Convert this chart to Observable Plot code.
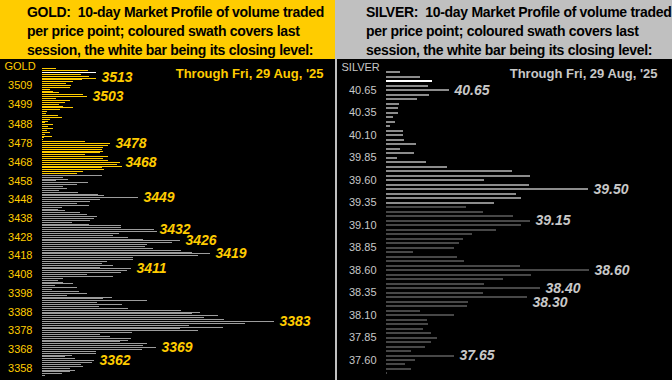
<!DOCTYPE html>
<html>
<head>
<meta charset="utf-8">
<script src="https://cdn.jsdelivr.net/npm/d3@7"></script>
<script src="https://cdn.jsdelivr.net/npm/@observablehq/plot@0.6"></script>
<style>
  html, body { margin: 0; padding: 0; }
  body { width: 672px; height: 380px; overflow: hidden; background: #c0c0c0; font-family: "Liberation Sans", Arial, sans-serif; }
  #wrap { display: flex; width: 672px; height: 380px; }
  .panel { height: 380px; }
  .head { height: 59px; box-sizing: border-box; padding-top: 3px; font-weight: bold; font-size: 14px; line-height: 19px; letter-spacing: -0.3px; white-space: nowrap; color: #000; }
  #goldHead { background: #FFCC00; padding-left: 27px; width: 335px; }
  #silverHead { background: #C0C0C0; padding-left: 31px; width: 337px; }
  #silverChart { margin-left: 2px; }
  svg { display: block; }
</style>
</head>
<body>
<div id="wrap">
  <div class="panel" style="width:335px">
    <div class="head" id="goldHead"></div>
    <div id="goldChart"></div>
  </div>
  <div class="panel" style="width:337px">
    <div class="head" id="silverHead"></div>
    <div id="silverChart"></div>
  </div>
</div>
<script>
// ---------------- DATA ----------------
const goldTitle = ["GOLD:\u00a0\u00a010-day Market Profile of volume traded", "per price point; coloured swath covers last", "session, the white bar being its closing level:"];
const silverTitle = ["SILVER:\u00a0\u00a010-day Market Profile of volume traded", "per price point; coloured swath covers last", "session, the white bar being its closing level:"];
const dateNote = "Through Fri, 29 Aug, '25";

// Gold: one bar per $1, from the top price downward
const goldTopPrice = 3518;
const goldVolumes = [
  14,46,54,39,47,54,40,31,24,29,28,8,11,17,41,45,
  14,28,23,17,21,31,18,5,4,16,20,8,6,3,11,6,11,5,8,3,10,2,1,
  43,68,66,61,60,61,58,43,66,61,66,78,75,80,60,62,41,35,
  60,21,26,14,46,35,21,25,17,36,56,62,96,
  58,48,35,47,20,16,23,38,45,55,52,48,30,47,79,79,
  112,115,77,71,86,101,
  138,130,105,103,111,139,150,
  168,156,91,91,65,60,71,58,
  89,85,79,45,71,21,16,21,31,13,35,10,37,45,25,70,61,105,55,80,57,86,
  139,158,150,176,162,182,
  232,203,147,181,138,156,
  90,58,68,89,86,78,105,101,
  114,100,54,54,30,23,33,
  52,50,39,41,28,33,28,20,3
];
const goldClose = 3516;
const goldSwathLow = 3462;
const goldTicks = [3509, 3499, 3488, 3478, 3468, 3458, 3448, 3438, 3428, 3418, 3408, 3398, 3388, 3378, 3368, 3358];
const goldCallouts = [3513, 3503, 3478, 3468, 3449, 3432, 3426, 3419, 3411, 3383, 3369, 3362];

// Silver: one bar per $0.05, from the top price downward
const silverTopPrice = 40.80;
const silverStep = 0.05;
const silverVolumes = [
  14,34,46,42,63,43,31,13,12,12,
  7,9,4,17,17,18,30,14,28,11,
  40,61,126,144,98,143,202,130,135,108,
  80,97,127,144,135,110,86,77,73,68,
  27,71,78,134,203,145,117,98,154,97,
  141,82,81,34,68,41,42,37,45,51,
  45,39,25,68,29,19,25,1
];
const silverClose = 40.70;
const silverSwathLow = 39.35;
const silverTicks = [40.60, 40.35, 40.10, 39.85, 39.60, 39.35, 39.10, 38.85, 38.60, 38.35, 38.10, 37.85, 37.60];
const silverTickLabels = ["40.65", "40.35", "40.10", "39.85", "39.60", "39.35", "39.10", "38.85", "38.60", "38.35", "38.10", "37.85", "37.60"];
const silverCalloutPrices = [40.60, 39.50, 39.15, 38.60, 38.40, 38.30, 37.65];
const silverCalloutTexts = ["40.65", "39.50", "39.15", "38.60", "38.40", "38.30", "37.65"];

// ---------------- HEADERS ----------------
document.getElementById("goldHead").innerHTML = goldTitle.join("<br>");
document.getElementById("silverHead").innerHTML = silverTitle.join("<br>");

// ---------------- BUILD TABLES ----------------
const gold = goldVolumes.map((v, i) => ({price: goldTopPrice - i, vol: v}));
const silver = silverVolumes.map((v, i) => ({price: +(silverTopPrice - i * silverStep).toFixed(2), vol: v}));
const goldVol = new Map(gold.map(d => [d.price, d.vol]));
const silverVol = new Map(silver.map(d => [d.price.toFixed(2), d.vol]));
const silverLabelMap = new Map(silverTicks.map((t, i) => [t.toFixed(2), silverTickLabels[i]]));

const FONT = "'Liberation Sans', Arial, sans-serif";
const GOLD = "#FFCC00";
const SILV = "#c8c8c8";

// silver y scale geometry (pixels per $) used to keep neighbouring callouts apart
const sTop = 30.8, sBottom = 20.5, sHeight = 321;
const sPxPerDollar = (sHeight - sTop - sBottom) / (silverTicks[0] - silverTicks[silverTicks.length - 1]);
const silverCallouts = [];
silverCalloutPrices.forEach((p, i) => {
  let nudge = 0;
  const prev = silverCallouts[silverCallouts.length - 1];
  if (prev) {
    const gap = (prev.price - p) * sPxPerDollar + prev.nudge;
    if (gap < 14) nudge = 14 - gap;
  }
  silverCallouts.push({price: p, text: silverCalloutTexts[i], vol: silverVol.get(p.toFixed(2)), nudge});
});

// ---------------- GOLD CHART ----------------
const goldPlot = Plot.plot({
  width: 335,
  height: 321,
  marginLeft: 42,
  marginRight: 0,
  marginTop: 26,
  marginBottom: 12.3,
  style: {background: "#000", color: GOLD, fontFamily: FONT, fontSize: "11px"},
  x: {domain: [0, 293], axis: null},
  y: {domain: [3358, 3509], ticks: goldTicks, tickSize: 0, tickPadding: 10, tickFormat: d => String(d), label: null},
  marks: [
    Plot.ruleY(gold.filter(d => d.price < goldSwathLow), {y: "price", x1: 0, x2: "vol", stroke: "#9c9c9c", strokeWidth: 1, shapeRendering: "crispEdges"}),
    Plot.ruleY(gold.filter(d => d.price >= goldSwathLow && d.price !== goldClose), {y: "price", x1: 0, x2: "vol", stroke: GOLD, strokeWidth: 1, shapeRendering: "crispEdges"}),
    Plot.ruleY(gold.filter(d => d.price === goldClose), {y: "price", x1: 0, x2: "vol", stroke: "#ffffff", strokeWidth: 1, shapeRendering: "crispEdges"}),
    Plot.text(goldCallouts, {x: d => goldVol.get(d), y: d => d, text: d => String(d), dx: 5, textAnchor: "start", fill: GOLD, fontWeight: "bold", fontStyle: "italic", fontSize: 14}),
    Plot.text(["GOLD"], {frameAnchor: "top-left", dx: -38, dy: -19, textAnchor: "start", lineAnchor: "middle", fill: GOLD, fontSize: 11}),
    Plot.text([dateNote], {frameAnchor: "top-right", dx: -12, dy: -12, textAnchor: "end", lineAnchor: "middle", fill: GOLD, fontWeight: "bold", fontSize: 13})
  ]
});
document.getElementById("goldChart").append(goldPlot);

// ---------------- SILVER CHART ----------------
const silverPlot = Plot.plot({
  width: 335,
  height: sHeight,
  marginLeft: 49,
  marginRight: 0,
  marginTop: sTop,
  marginBottom: sBottom,
  style: {background: "#000", color: SILV, fontFamily: FONT, fontSize: "11px"},
  x: {domain: [0, 286], axis: null},
  y: {domain: [37.60, 40.60], ticks: silverTicks, tickSize: 0, tickPadding: 10, tickFormat: d => silverLabelMap.get((+d).toFixed(2)) ?? "", label: null},
  marks: [
    Plot.ruleY(silver.filter(d => d.price < silverSwathLow - 0.001), {y: "price", x1: 0, x2: "vol", stroke: "#474747", strokeWidth: 2, shapeRendering: "crispEdges"}),
    Plot.ruleY(silver.filter(d => d.price >= silverSwathLow - 0.001 && Math.abs(d.price - silverClose) > 0.001), {y: "price", x1: 0, x2: "vol", stroke: "#8c8c8c", strokeWidth: 2, shapeRendering: "crispEdges"}),
    Plot.ruleY(silver.filter(d => Math.abs(d.price - silverClose) < 0.001), {y: "price", x1: 0, x2: "vol", stroke: "#ffffff", strokeWidth: 2, shapeRendering: "crispEdges"}),
    ...silverCallouts.map(c => Plot.text([c], {x: "vol", y: "price", text: "text", dx: 5, dy: c.nudge, textAnchor: "start", fill: SILV, fontWeight: "bold", fontStyle: "italic", fontSize: 14})),
    Plot.text(["SILVER"], {frameAnchor: "top-left", dx: -45, dy: -22.8, textAnchor: "start", lineAnchor: "middle", fill: SILV, fontSize: 11}),
    Plot.text([dateNote], {frameAnchor: "top-right", dx: -15, dy: -16.8, textAnchor: "end", lineAnchor: "middle", fill: SILV, fontWeight: "bold", fontSize: 13})
  ]
});
document.getElementById("silverChart").append(silverPlot);
</script>
</body>
</html>
